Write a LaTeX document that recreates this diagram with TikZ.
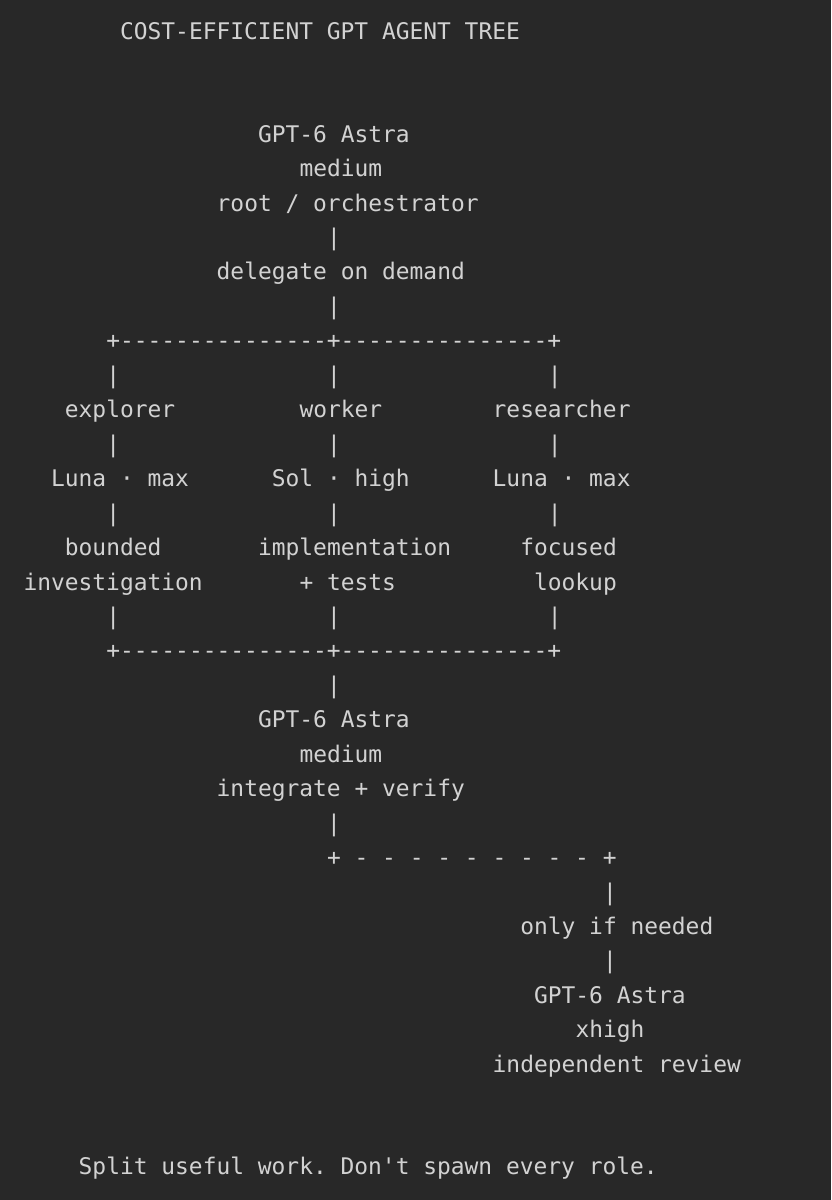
\documentclass[tikz,border=0pt]{standalone}
\usepackage{fontspec}
\setmonofont{DejaVu Sans Mono}
\definecolor{bg}{HTML}{282828}
\definecolor{fg}{HTML}{D2D2D2}
\begin{document}
\begin{tikzpicture}[x=1pt,y=-1pt,
  txt/.style={anchor=mid west,inner sep=0pt,text=fg,font=\ttfamily\fontsize{22.9}{24}\selectfont}]
\fill[bg] (0,0) rectangle (831,1200);
\useasboundingbox (0,0) rectangle (831,1200);
\newcommand\tl[3]{\node[txt] (r#1c#2) at ({23.3+13.8*#2},{140+34.45*#1}) {#3};}
\node[txt] (title) at ({23.3+13.8*7},37) {COST-EFFICIENT GPT AGENT TREE};
\tl{0}{17}{GPT-6 Astra}
\tl{1}{20}{medium}
\tl{2}{14}{root / orchestrator}
\tl{3}{22}{|}
\tl{4}{14}{delegate on demand}
\tl{5}{22}{|}
\tl{6}{6}{+---------------+---------------+}
\tl{7}{6}{|}\tl{7}{22}{|}\tl{7}{38}{|}
\tl{8}{3}{explorer}\tl{8}{20}{worker}\tl{8}{34}{researcher}
\tl{9}{6}{|}\tl{9}{22}{|}\tl{9}{38}{|}
\tl{10}{2}{Luna · max}\tl{10}{18}{Sol · high}\tl{10}{34}{Luna · max}
\tl{11}{6}{|}\tl{11}{22}{|}\tl{11}{38}{|}
\tl{12}{3}{bounded}\tl{12}{17}{implementation}\tl{12}{36}{focused}
\tl{13}{0}{investigation}\tl{13}{20}{+ tests}\tl{13}{37}{lookup}
\tl{14}{6}{|}\tl{14}{22}{|}\tl{14}{38}{|}
\tl{15}{6}{+---------------+---------------+}
\tl{16}{22}{|}
\tl{17}{17}{GPT-6 Astra}
\tl{18}{20}{medium}
\tl{19}{14}{integrate + verify}
\tl{20}{22}{|}
\tl{21}{22}{+ - - - - - - - - - +}
\tl{22}{42}{|}
\tl{23}{36}{only if needed}
\tl{24}{42}{|}
\tl{25}{37}{GPT-6 Astra}
\tl{26}{40}{xhigh}
\tl{27}{34}{independent review}
\node[txt] (footer) at ({23.3+13.8*4},1172) {Split useful work. Don't spawn every role.};
\end{tikzpicture}
\end{document}
